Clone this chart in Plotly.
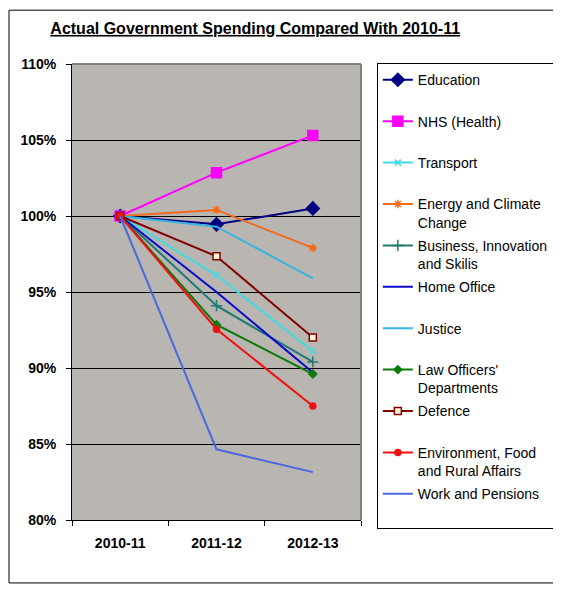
import plotly.graph_objects as go

years = ["2010-11", "2011-12", "2012-13"]

education = [100, 99.45, 100.5]
nhs = [100, 102.85, 105.3]
transport = [100, 96.1, 91.1]
energy = [100, 100.4, 97.9]
business = [100, 94.1, 90.4]
home_office = [100, 95.0, 89.7]
justice = [100, 99.3, 95.9]
law_officers = [100, 92.85, 89.6]
defence = [100, 97.35, 92.0]
environment = [100, 92.55, 87.5]
work_pensions = [100, 84.65, 83.15]

# name, values, line colour, marker symbol, marker size
series = [
    ("Education", education, "#000080", "diamond", 10),
    ("NHS (Health)", nhs, "#FF00FF", "square", 10),
    ("Transport", transport, "#3FDDE3", "x-thin", 6),
    ("Energy and Climate<br>Change", energy, "#F26B1D", "asterisk-open", 7),
    ("Business, Innovation<br>and Skilis", business, "#1E7A72", "cross-thin", 8),
    ("Home Office", home_office, "#0A0ACC", None, 0),
    ("Justice", justice, "#38B4E0", None, 0),
    ("Law Officers'<br>Departments", law_officers, "#0A7A0A", "diamond", 6),
    ("Defence", defence, "#800000", "square", 7),
    ("Environment, Food<br>and Rural Affairs", environment, "#F01010", "circle", 6),
    ("Work and Pensions", work_pensions, "#4A68E0", None, 0),
]

fig = go.Figure()

for i, (name, vals, col, sym, size) in enumerate(series):
    # pad single-line legend entries so every entry is two lines tall
    label = name if "<br>" in name else name + "<br> "
    if sym is None:
        fig.add_trace(go.Scatter(x=years, y=vals, name=label, mode="lines",
                                 legendgroup=str(i),
                                 line=dict(color=col, width=2)))
        continue
    mk = dict(symbol=sym, size=size, color=col,
              line=dict(color=col, width=1.5))
    if name == "Defence":
        mk = dict(symbol="square", size=size, color="#FFF5DC",
                  line=dict(color=col, width=1.5))
    fig.add_trace(go.Scatter(x=years, y=vals, name=label, mode="lines+markers",
                             legendgroup=str(i),
                             line=dict(color=col, width=2), marker=mk))

# the page has an 8px body margin, so the figure is 8px smaller than the window
fig.update_layout(
    width=553, height=581,
    margin=dict(l=64, r=200, t=56, b=69, autoexpand=False),
    paper_bgcolor="white",
    plot_bgcolor="#B9B5B0",
    font=dict(family="Liberation Sans, Arial", size=13, color="black"),
    title=dict(text="<b>Actual Government Spending Compared With 2010-11</b>",
               x=0.447, xanchor="center", y=0.965, yanchor="middle",
               xref="container", yref="container",
               font=dict(size=16, color="black", lineposition="under")),
    legend=dict(x=0.667, y=0.905, xanchor="left", yanchor="top",
                xref="container", yref="container",
                bgcolor="white", bordercolor="black", borderwidth=1,
                font=dict(size=14), valign="top", tracegroupgap=2,
                itemwidth=30, maxheight=500),
    showlegend=True,
)

fig.update_xaxes(
    type="category", range=[-0.5, 2.5], showgrid=False,
    tickson="boundaries", ticks="outside", ticklen=5, tickcolor="black",
    showline=True, linecolor="black", linewidth=1, mirror=False,
    tickfont=dict(size=14, family="Liberation Sans, Arial"),
    ticklabelstandoff=10, tickprefix="<b>", ticksuffix="</b>",
)
fig.update_yaxes(
    range=[80, 110], dtick=5, ticksuffix="%</b>", tickprefix="<b>",
    showgrid=True, gridcolor="black", gridwidth=1,
    ticks="outside", ticklen=5, tickcolor="black",
    showline=True, linecolor="black", linewidth=1, mirror=False,
    zeroline=False, tickfont=dict(size=14), ticklabelstandoff=7,
)

# grey plot border on top/right, then the outer chart frame
fig.add_shape(type="line", xref="paper", yref="paper", x0=0, x1=1, y0=1, y1=1,
              line=dict(color="#808080", width=2), layer="above")
fig.add_shape(type="line", xref="paper", yref="paper", x0=1, x1=1, y0=0, y1=1,
              line=dict(color="#808080", width=2), layer="above")
fig.add_shape(type="rect", xref="paper", yref="paper",
              x0=-0.218, x1=1.671, y0=-0.138, y1=1.118,
              line=dict(color="black", width=1))

fig.write_html("out.html")
